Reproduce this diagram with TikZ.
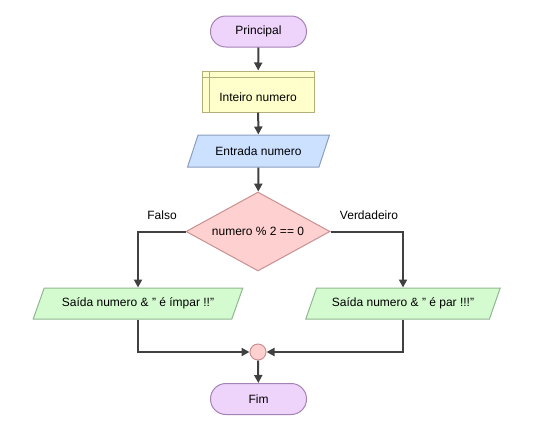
\documentclass[tikz,border=0pt]{standalone}
\usepackage{fontspec}
\setmainfont{Liberation Sans}
\usetikzlibrary{shapes.geometric,arrows.meta}
\definecolor{lineC}{HTML}{404040}
\definecolor{termF}{HTML}{EED3FA}
\definecolor{termD}{HTML}{A482B4}
\definecolor{declF}{HTML}{FFFFCC}
\definecolor{declD}{HTML}{B4AE7C}
\definecolor{inF}{HTML}{CCE0FF}
\definecolor{inD}{HTML}{8C9EC0}
\definecolor{decF}{HTML}{FFD0D0}
\definecolor{decD}{HTML}{C89090}
\definecolor{outF}{HTML}{D4FAD0}
\definecolor{outD}{HTML}{90B890}
\newcommand{\dq}{\symbol{34}}
\begin{document}
\begin{tikzpicture}[x=0.75pt,y=-0.75pt,
  every node/.style={font=\fontsize{9}{10}\selectfont, text=black},
  term/.style={draw=termD, fill=termF, rounded corners=11.5pt, minimum width=72pt, minimum height=23.25pt, line width=0.75pt},
  decl/.style={draw=declD, fill=declF, minimum width=84pt, minimum height=30.75pt, line width=0.75pt},
  para/.style={trapezium, trapezium left angle=65, trapezium right angle=115, trapezium stretches=true, line width=0.75pt},
  dec/.style={diamond, draw=decD, fill=decF, aspect=1.82, minimum width=108pt, minimum height=59.25pt, inner sep=0pt, line width=0.75pt},
  conn/.style={draw=lineC, line width=1.5pt, -{Triangle[length=6pt,width=6pt]}},
  lab/.style={font=\fontsize{9}{10}\selectfont}
]
\useasboundingbox (0,0) rectangle (548,425);
\node[term] (p) at (258.5,31.5) {Principal};
\node[decl] (d) at (258,91.5) {};
\node at (258,97) {Inteiro numero};
\draw[declD, line width=0.75pt] (d.north west) ++(0,6.5) -- ++(112,0);
\draw[declD, line width=0.75pt] (d.north west) ++(8,0) -- ++(0,41);
\node[para, draw=inD, fill=inF, minimum width=107pt, minimum height=24pt] (e) at (258.5,151) {Entrada numero};
\node[dec] (c) at (258,231.5) {numero \% 2 == 0};
\node[para, draw=outD, fill=outF, minimum width=157.5pt, minimum height=23.25pt] (f) at (138,303.5) {Saída numero \& \dq{} é ímpar !!\dq};
\node[para, draw=outD, fill=outF, minimum width=146pt, minimum height=23.25pt] (v) at (403,303.5) {Saída numero \& \dq{} é par !!!\dq};
\node[circle, draw=decD, fill=decF, minimum size=12pt, inner sep=0pt, line width=0.75pt] (m) at (258,352) {};
\node[term] (fim) at (258.5,399) {Fim};
\node[lab] (lf) at (162,215) {Falso};
\node[lab] (lv) at (369,215) {Verdadeiro};
\draw[conn] (p) -- (d);
\draw[conn] (d) -- (e);
\draw[conn] (e) -- (c);
\draw[conn] (c.west) -| (f.north);
\draw[conn] (c.east) -| (v.north);
\draw[conn] (f.south) |- (m.west);
\draw[conn] (v.south) |- (m.east);
\draw[conn] (m) -- (fim);
\end{tikzpicture}
\end{document}
